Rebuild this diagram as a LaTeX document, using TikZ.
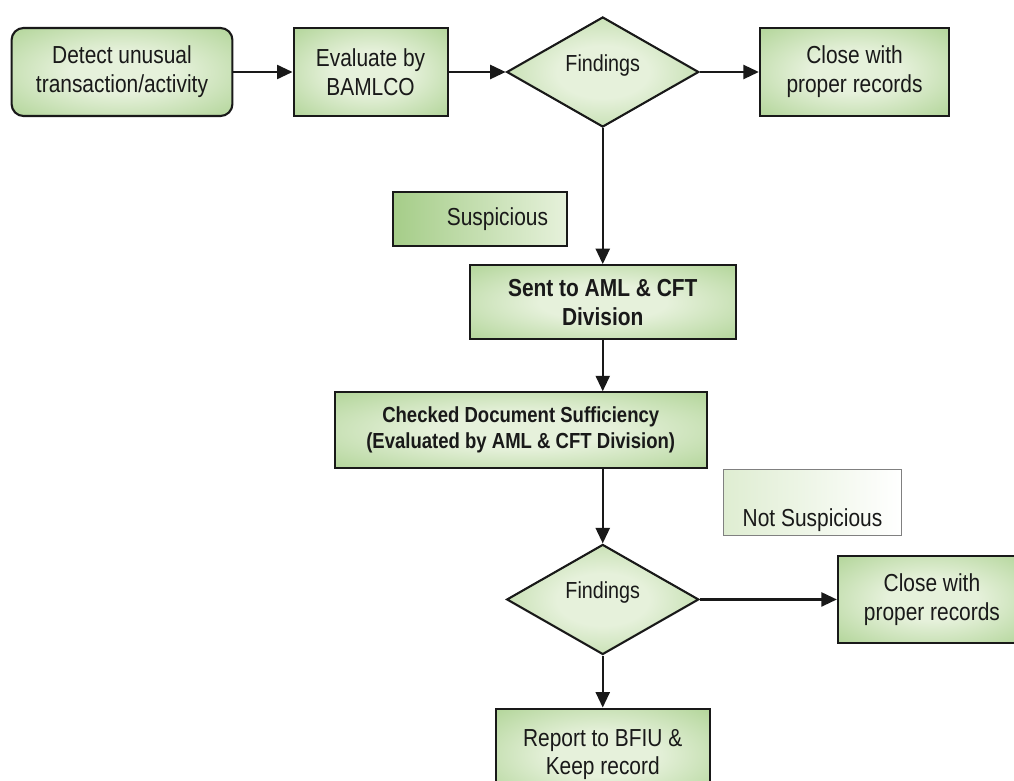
\documentclass[tikz,border=0pt]{standalone}
\usepackage{fontspec}
\setmainfont{Liberation Sans}[FakeStretch=0.85]
\usetikzlibrary{positioning,shapes,arrows.meta,calc}

\definecolor{boxdark}{RGB}{140,190,104}
\definecolor{boxmid}{RGB}{182,215,158}
\definecolor{boxlight}{RGB}{230,241,219}
\definecolor{inkgray}{RGB}{25,25,25}
\pgfdeclareradialshading{greenbox}{\pgfpoint{0bp}{0bp}}{color(0bp)=(boxlight); color(12bp)=(boxlight); color(34bp)=(boxmid); color(66bp)=(boxdark)}

\begin{document}
\begin{tikzpicture}[x=0.025cm,y=-0.025cm]
\tikzset{
    flowbox/.style={rectangle, draw=inkgray, line width=1.5pt, shade, shading=greenbox, text=inkgray, align=center, font=\fontsize{17.5}{20.5}\selectfont},
    roundbox/.style={flowbox, rounded corners=0.3cm},
    boldbox/.style={flowbox, font=\fontsize{17.5}{20.5}\selectfont\bfseries},
    decision/.style={diamond, draw=inkgray, line width=1.5pt, shade, shading=greenbox, text=inkgray, font=\fontsize{16.5}{19}\selectfont, minimum width=4.8cm, minimum height=2.75cm, text depth=0.45cm, inner sep=0pt},
    tagbox/.style={rectangle, draw=inkgray, line width=1.5pt, left color=boxmid!60!boxdark, right color=boxlight, text=inkgray, font=\fontsize{17.5}{20.5}\selectfont},
    flowarrow/.style={draw=inkgray, line width=1.5pt, -{Triangle[length=11pt,width=10pt]}}
}
\useasboundingbox (0,0) rectangle (1014,781);
\clip (0,0) rectangle (1014,781);

% top row
\node[roundbox, minimum width=5.52cm, minimum height=2.2cm] (detect) at (122,72) {Detect unusual\\transaction/activity};
\node[flowbox, minimum width=3.85cm, minimum height=2.2cm, right=1.475cm of detect] (evaluate) {Evaluate by\\BAMLCO};
\node[decision, right=1.425cm of evaluate] (findA) {Findings};
\node[flowbox, minimum width=4.73cm, minimum height=2.2cm, right=1.475cm of findA] (closeA) {Close with\\proper records};

% suspicious branch
\node[tagbox, minimum width=4.35cm, minimum height=1.35cm, text width=3.4cm, align=right] (susp) at (480,219) {Suspicious};
\node[boldbox, minimum width=6.65cm, minimum height=1.85cm, below=3.4cm of findA] (sent) {Sent to AML \& CFT\\Division};
\node[boldbox, font=\fontsize{15.5}{18.5}\selectfont\bfseries, minimum width=9.3cm, minimum height=1.9cm, below=1.275cm of sent, xshift=-2.05cm] (checked) {Checked Document Sufficiency\\(Evaluated by AML \& CFT Division)};

% second decision
\node[rectangle, draw=black!50, line width=0.7pt, left color=boxlight!85!boxmid, right color=white, text=inkgray, font=\fontsize{17.5}{20.5}\selectfont, minimum width=4.425cm, minimum height=1.575cm, text height=1.3cm, text depth=0.1cm] (notsusp) at (812.5,502.5) {Not Suspicious};
\node[decision, below=1.85cm of checked, xshift=2.05cm] (findB) {Findings};
\node[flowbox, minimum width=4.7cm, minimum height=2.18cm, right=3.425cm of findB] (closeB) {Close with\\proper records};
\node[flowbox, minimum width=5.35cm, minimum height=2.3cm, below=1.3cm of findB] (report) {Report to BFIU \&\\Keep record};

\draw[flowarrow] (detect) -- (evaluate);
\draw[flowarrow] (evaluate) -- (findA);
\draw[flowarrow] (findA) -- (closeA);
\draw[flowarrow] (findA) -- (sent);
\draw[flowarrow] (sent.south) -- (sent.south |- checked.north);
\draw[flowarrow] (findB.north |- checked.south) -- (findB.north);
\draw[flowarrow] (findB) -- (closeB);
\draw[flowarrow] (findB) -- (report);
\end{tikzpicture}
\end{document}
